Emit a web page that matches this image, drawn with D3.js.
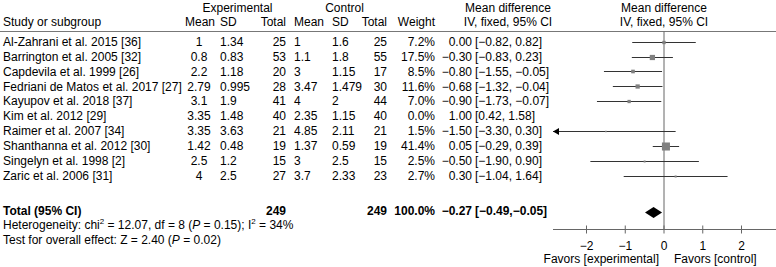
<!DOCTYPE html>
<html lang="en">
<head>
<meta charset="UTF-8">
<title>forest plot</title>
<style>
  body { margin: 0; background: #fff; }
  svg { font-family: "Liberation Sans", Arial, sans-serif; font-size: 12px; }
</style>
</head>
<body>
<svg id="chart"></svg>
<script src="https://d3js.org/d3.v7.min.js"></script>
<script>
const studies = ['Al-Zahrani et al. 2015 [36]', 'Barrington et al. 2005 [32]', 'Capdevila et al. 1999 [26]',
  'Fedriani de Matos et al. 2017 [27]', 'Kayupov et al. 2018 [37]', 'Kim et al. 2012 [29]',
  'Raimer et al. 2007 [34]', 'Shanthanna et al. 2012 [30]', 'Singelyn et al. 1998 [2]', 'Zaric et al. 2006 [31]'];
const expMean = ['1', '0.8', '2.2', '2.79', '3.1', '3.35', '3.35', '1.42', '2.5', '4'];
const expSD = ['1.34', '0.83', '1.18', '0.995', '1.9', '1.48', '3.63', '0.48', '1.2', '2.5'];
const expN = [25, 53, 20, 28, 41, 40, 21, 19, 15, 27];
const ctlMean = ['1', '1.1', '3', '3.47', '4', '2.35', '4.85', '1.37', '3', '3.7'];
const ctlSD = ['1.6', '1.8', '1.15', '1.479', '2', '1.15', '2.11', '0.59', '2.5', '2.33'];
const ctlN = [25, 55, 17, 30, 44, 40, 21, 19, 15, 23];
const weight = [7.2, 17.5, 8.5, 11.6, 7.0, 0.0, 1.5, 41.4, 2.5, 2.7];
const md = [0.00, -0.30, -0.80, -0.68, -0.90, 1.00, -1.50, 0.05, -0.50, 0.30];
const lo = [-0.82, -0.83, -1.55, -1.32, -1.73, 0.42, -3.30, -0.29, -1.90, -1.04];
const hi = [0.82, 0.23, -0.05, -0.04, -0.07, 1.58, 0.30, 0.39, 0.90, 1.64];
const total = { expN: 249, ctlN: 249, weight: 100.0, md: -0.27, lo: -0.49, hi: -0.05 };
const ticks = [-2, -1, 0, 1, 2];

const W = 776, H = 267;
const svg = d3.select('#chart').attr('width', W).attr('height', H);

const fmt = d3.format('.2f');
const m = v => fmt(v).replace('-', '\u2212');

// row positions
const rowY = d3.scaleLinear().domain([0, 9]).range([41.7, 175.7]);
const totalY = 210.5;
const axisY = 229.5;

// plot scale
const x = d3.scaleLinear().domain([-2, 2]).range([586.5, 741.5]);
const xMin = x.invert(553);

// header
function txt(xp, yp, s, anchor, extra) {
  const t = svg.append('text').attr('x', xp).attr('y', yp + 4.2).attr('text-anchor', anchor || 'start').text(s);
  if (extra) extra(t);
  return t;
}
txt(237.5, 8, 'Experimental', 'middle');
txt(344.5, 8, 'Control', 'middle');
txt(508, 8, 'Mean difference', 'middle');
txt(664, 8, 'Mean difference', 'middle');
txt(3, 22, 'Study or subgroup');
txt(200, 22, 'Mean', 'middle');
txt(220, 22, 'SD');
txt(286, 22, 'Total', 'end');
txt(294, 22, 'Mean');
txt(332, 22, 'SD');
txt(387, 22, 'Total', 'end');
txt(435, 22, 'Weight', 'end');
txt(508, 22, 'IV, fixed, 95% CI', 'middle');
txt(664, 22, 'IV, fixed, 95% CI', 'middle');

svg.append('line').attr('x1', 0).attr('x2', W).attr('y1', 31.5).attr('y2', 31.5)
  .attr('stroke', '#777').attr('stroke-width', 1);

// table rows
studies.forEach((s, i) => {
  const y = rowY(i);
  txt(3, y, s);
  txt(199, y, expMean[i], 'middle');
  txt(220, y, expSD[i]);
  txt(286, y, expN[i], 'end');
  txt(294, y, ctlMean[i]);
  txt(332, y, ctlSD[i]);
  txt(387, y, ctlN[i], 'end');
  txt(435, y, weight[i].toFixed(1) + '%', 'end');
  txt(472, y, m(md[i]), 'end');
  txt(475, y, '[' + m(lo[i]) + ', ' + m(hi[i]) + ']');
});

// total row
const bold = t => t.attr('font-weight', 'bold');
txt(3, totalY, 'Total (95% CI)', 'start', bold);
txt(286, totalY, total.expN, 'end', bold);
txt(387, totalY, total.ctlN, 'end', bold);
txt(435, totalY, total.weight.toFixed(1) + '%', 'end', bold);
txt(472, totalY, m(total.md), 'end', bold);
txt(475, totalY, '[' + m(total.lo) + ',' + m(total.hi) + ']', 'start', bold);

// heterogeneity
const het = txt(3, 225, 'Heterogeneity: chi');
het.append('tspan').attr('dy', -5).attr('font-size', 8).text('2');
het.append('tspan').attr('dy', 5).text(' = 12.07, df = 8 (');
het.append('tspan').attr('font-style', 'italic').text('P');
het.append('tspan').text(' = 0.15); I');
het.append('tspan').attr('dy', -5).attr('font-size', 8).text('2');
het.append('tspan').attr('dy', 5).text(' = 34%');

const eff = txt(3, 240, 'Test for overall effect: Z = 2.40 (');
eff.append('tspan').attr('font-style', 'italic').text('P');
eff.append('tspan').text(' = 0.02)');

// zero line
svg.append('line').attr('x1', x(0)).attr('x2', x(0)).attr('y1', 31.5).attr('y2', axisY)
  .attr('stroke', '#666').attr('stroke-width', 1);

// CI lines and squares
const g = svg.append('g');
studies.forEach((s, i) => {
  if (weight[i] <= 0) return;
  const y = Math.round(rowY(i)) + 0.5;
  const left = Math.max(lo[i], xMin);
  g.append('line').attr('x1', x(left)).attr('x2', x(Math.min(hi[i], 2.9))).attr('y1', y).attr('y2', y)
    .attr('stroke', '#333').attr('stroke-width', 1);
  if (lo[i] < xMin) {
    const ax = x(xMin);
    g.append('path').attr('d', `M${ax},${y} l6,-3.5 l0,7 Z`).attr('fill', '#000');
  }
  const sz = Math.max(1.5, 1.25 * Math.sqrt(weight[i]));
  g.append('rect').attr('x', x(md[i]) - sz / 2).attr('y', y - sz / 2)
    .attr('width', sz).attr('height', sz).attr('fill', '#808080');
});

// diamond
svg.append('path')
  .attr('d', `M${x(total.lo)},${totalY + 2} L${x(total.md)},${totalY - 3.5} L${x(total.hi)},${totalY + 2} L${x(total.md)},${totalY + 7.5} Z`)
  .attr('fill', '#000');

// axis
svg.append('line').attr('x1', 553).attr('x2', W).attr('y1', axisY).attr('y2', axisY)
  .attr('stroke', '#666').attr('stroke-width', 1);
svg.append('g').selectAll('line').data(ticks).join('line')
  .attr('x1', d => x(d)).attr('x2', d => x(d))
  .attr('y1', axisY - 4).attr('y2', axisY + 4)
  .attr('stroke', '#666');
svg.append('g').selectAll('text').data(ticks).join('text')
  .attr('x', d => x(d)).attr('y', 249.5).attr('text-anchor', 'middle')
  .text(d => String(d).replace('-', '\u2212'));

txt(659, 259, 'Favors [experimental]', 'end');
txt(674, 259, 'Favors [control]');
</script>
</body>
</html>
